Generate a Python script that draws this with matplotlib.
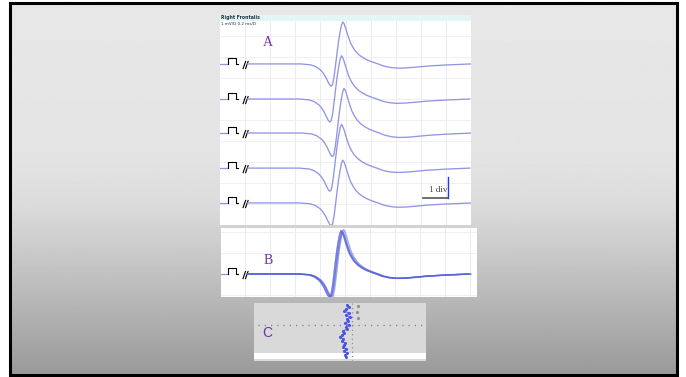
import numpy as np
import matplotlib
matplotlib.use("Agg")
import matplotlib.pyplot as plt
from matplotlib.patches import Rectangle

W, H = 686, 377

# one motor unit potential, time and amplitude in screen divisions
wave_t = [0.0, 2.4, 3.2, 3.6, 3.8, 4.0, 4.1, 4.2, 4.28, 4.36, 4.42, 4.48, 4.54,
          4.6, 4.66, 4.72, 4.78, 4.84, 4.89, 4.94, 5.0, 5.07, 5.14, 5.2, 5.3,
          5.4, 5.55, 5.72, 5.9, 6.12, 6.3, 6.52, 6.8, 7.08, 7.4, 7.72, 8.28,
          9.0, 10.0]
wave_v = [0.0, 0.0, 0.0, -0.04, -0.12, -0.28, -0.42, -0.6, -0.8, -0.98, -1.06, -1.0, -0.65,
          -0.1, 0.5, 1.05, 1.5, 1.85, 2.0, 1.92, 1.72, 1.45, 1.2, 1.0, 0.78,
          0.6, 0.42, 0.28, 0.17, 0.07, 0.0, -0.1, -0.17, -0.2, -0.19, -0.16, -0.1,
          -0.05, 0.0]

# consecutive sweeps: baseline, latency shift, gain
sweep_base = [7.67, 6.0, 4.38, 2.71, 1.05]
sweep_shift = [0.0, -0.05, 0.05, -0.05, 0.0]
sweep_gain = [1.0, 1.03, 1.06, 1.04, 1.02]

# jitter raster: sweep row (pixel rows) and latency (us)
jit_row = [305, 307, 309, 311, 313, 315, 317, 319, 321, 323, 325, 327, 329, 331,
           333, 335, 337, 339, 341, 343, 345, 347, 349, 351, 353, 355, 357]
jit_lat = [-6, -2, -8, -12, -2, -8, 0, -6, -4, -10, -2, -8, -6, -14,
           -12, -16, -20, -14, -16, -10, -12, -14, -8, -12, -6, -10, -8]
ref_row = [306, 312, 318]
ref_lat = [16, 14, 16]

trace_col = "#9295e4"
label_col = "#7030a0"


def px_axes(fig, x0, y0, x1, y1):
    return fig.add_axes([x0 / W, 1 - y1 / H, (x1 - x0) / W, (y1 - y0) / H])


def stim_mark(ax, y0):
    ax.plot([0.0, 0.32], [y0, y0], color=trace_col, lw=0.9)
    ax.plot([0.32, 0.32, 0.62, 0.62, 0.72], [y0, y0 + 0.27, y0 + 0.27, y0, y0],
            color="black", lw=0.8)
    for dx in (0.0, 0.1):
        ax.plot([0.92 + dx, 1.02 + dx], [y0 - 0.22, y0 + 0.12], color="black", lw=0.8)


def grid(ax, xs, ys):
    for x in xs:
        ax.axvline(x, color="#e8e8ef", lw=0.6, zorder=0.5)
    for y in ys:
        ax.axhline(y, color="#eeeef3", lw=0.6, zorder=0.5)


def sweep(shift, gain, base):
    t = [1.1] + [tt + shift for tt in wave_t if tt + shift > 1.1]
    y = [base] + [base + v * gain for v, tt in zip(wave_v, wave_t) if tt + shift > 1.1]
    return t, y


fig = plt.figure(figsize=(W / 100, H / 100), dpi=100)
fig.patch.set_facecolor("white")

# slide background
bg = fig.add_axes([0, 0, 1, 1])
bg.axis("off")
rows = np.arange(H)
shade = np.interp(rows, [0, 150, 205, 260, 320, 377], [0.905, 0.895, 0.86, 0.78, 0.69, 0.60])
img = np.repeat(shade[:, None], 2, axis=1)
bg.imshow(img, cmap="gray", vmin=0, vmax=1, extent=(9, 677, 375, 2), aspect="auto")
bg.add_patch(Rectangle((9.5, 2.5), 667, 372, fill=False, ec="black", lw=2.2))
bg.set_xlim(0, W)
bg.set_ylim(H, 0)

# A: five consecutive sweeps
ax_a = px_axes(fig, 220, 15, 471, 225)
ax_a.set_xlim(0, 10)
ax_a.set_ylim(0, 10)
ax_a.axis("off")
ax_a.add_patch(Rectangle((0, 0), 10, 10, color="white", zorder=0))
grid(ax_a, range(1, 10), range(1, 10))
ax_a.axhspan(9.71, 10, color="#e2f6f6", lw=0, zorder=0.6)
ax_a.text(0.05, 9.86, "Right Frontalis", fontsize=3.3, fontweight="bold",
          color="#223344", va="center")
ax_a.text(0.05, 9.55, "1 mV/D 0.2 ms/D", fontsize=3.0, color="#223344", va="center")
for base, shift, gain in zip(sweep_base, sweep_shift, sweep_gain):
    stim_mark(ax_a, base)
    t, y = sweep(shift, gain, base)
    ax_a.plot(t, y, color=trace_col, lw=0.95, solid_joinstyle="round")
ax_a.text(1.9, 8.7, "A", fontsize=10, color=label_col, family="Liberation Serif",
          ha="center", va="center")
# calibration bar
ax_a.plot([8.08, 9.08], [1.286, 1.286], color="#555555", lw=1.2)
ax_a.plot([9.08, 9.08], [1.286, 2.286], color="#2040d8", lw=1.0)
ax_a.text(9.06, 1.67, "1 div", fontsize=6.5, color="#444444", family="Liberation Serif",
          ha="right", va="center")

# B: the same sweeps superimposed
ax_b = px_axes(fig, 221, 228, 477, 297)
ax_b.set_xlim(0.04, 10.28)
ax_b.set_ylim(-1.095, 2.19)
ax_b.axis("off")
ax_b.add_patch(Rectangle((0.04, -1.095), 10.24, 3.285, color="white", zorder=0))
grid(ax_b, range(1, 11), [-1, 1, 2])
stim_mark(ax_b, 0.0)
for shift, gain in zip(sweep_shift, sweep_gain):
    t, y = sweep(shift, gain, 0.0)
    ax_b.plot(t, y, color="#5560d8", lw=1.0, alpha=0.55, solid_joinstyle="round")
ax_b.text(1.92, 0.62, "B", fontsize=10, color=label_col, family="Liberation Serif",
          ha="center", va="center")

# C: latency jitter raster
ax_c = px_axes(fig, 254, 303, 426, 361)
ax_c.set_xlim(-192, 152)
ax_c.set_ylim(361, 303)
ax_c.axis("off")
ax_c.add_patch(Rectangle((-192, 303), 344, 58, color="#d9d9d9", zorder=0))
ax_c.axhspan(353, 359, color="white", lw=0, zorder=1)
ax_c.plot([-184, 146], [325, 325], color="#808080", lw=0.9, ls=(0, (1, 4)), zorder=2)
ax_c.plot([4, 4], [303, 361], color="#909090", lw=0.9, ls=(0, (1, 2.5)), zorder=2)
ax_c.plot(ref_lat, ref_row, ls="none", marker="o", ms=1.3, color="#909090", zorder=2)
ax_c.plot(jit_lat, jit_row, color="#6a72ea", lw=0.9, marker="o", ms=2.2,
          mfc="#4a52e0", mec="none", zorder=3)
ax_c.text(-166, 333, "C", fontsize=10, color=label_col, family="Liberation Sans",
          ha="center", va="center")

fig.savefig("out.png", dpi=100, facecolor="white")
